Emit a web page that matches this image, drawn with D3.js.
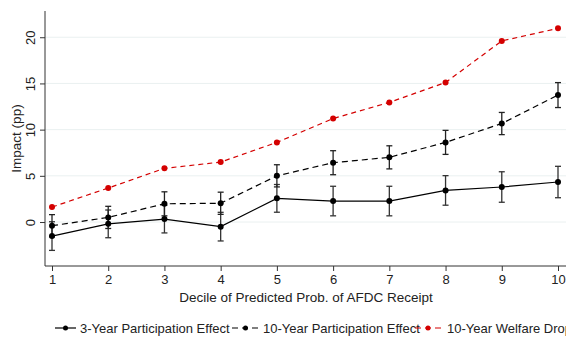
<!DOCTYPE html>
<html><head><meta charset="utf-8">
<script src="https://cdn.jsdelivr.net/npm/d3@7/dist/d3.min.js"></script>
<style>body{margin:0;background:#fff;}svg{display:block;font-family:"Liberation Sans",Arial,sans-serif;}</style>
</head><body>
<svg id="c" width="566" height="337"></svg>
<script>
const deciles = [1,2,3,4,5,6,7,8,9,10];
const yTicks = [0,5,10,15,20];
const part3 = [-1.52,-0.2,0.32,-0.5,2.56,2.27,2.27,3.42,3.79,4.33];
const part3Err = [1.55,1.5,1.5,1.55,1.5,1.6,1.6,1.6,1.65,1.7];
const part10 = [-0.4,0.5,1.97,2.03,5.0,6.42,7.0,8.62,10.66,13.74];
const part10Err = [1.2,1.2,1.3,1.2,1.2,1.3,1.25,1.3,1.2,1.35];
const welfare = [1.62,3.68,5.81,6.49,8.62,11.2,12.95,15.1,19.6,20.96];
const legendLabels = ["3-Year Participation Effect","10-Year Participation Effect","10-Year Welfare Drop"];

const svg = d3.select("#c");
const L=45, R=566, T=11, B=266;
const x = d3.scaleLinear().domain([1,10]).range([52,558]);
const y = d3.scaleLinear().domain([-4.76,22.84]).range([B,T]);

// grid
svg.append("g").selectAll("line").data(yTicks).join("line")
  .attr("x1",L).attr("x2",R).attr("y1",d=>y(d)).attr("y2",d=>y(d))
  .attr("stroke","#eaf0f0").attr("stroke-width",1);

// axes
const yAx = svg.append("g").attr("transform",`translate(${L},0)`)
  .call(d3.axisLeft(y).tickValues(yTicks).tickSize(5).tickSizeOuter(0));
yAx.select(".domain").attr("stroke","#333").attr("d",`M0,${T}V${B}`);
yAx.selectAll(".tick line").attr("stroke","#333");
yAx.selectAll(".tick text").attr("font-size",13).attr("fill","#222")
  .attr("transform","rotate(-90)").attr("x",0).attr("y",-10)
  .attr("dy","0").attr("text-anchor","middle");

const xAx = svg.append("g").attr("transform",`translate(0,${B})`)
  .call(d3.axisBottom(x).tickValues(deciles).tickFormat(d3.format("d")).tickSize(5).tickSizeOuter(0));
xAx.select(".domain").attr("stroke","#333").attr("d",`M${L},0H${R}`);
xAx.selectAll(".tick line").attr("stroke","#333");
xAx.selectAll(".tick text").attr("font-size",13).attr("fill","#222").attr("y",18).attr("dy","0");

svg.append("text").attr("x",306).attr("y",302).attr("text-anchor","middle")
  .attr("font-size",13.5).attr("fill","#222").text("Decile of Predicted Prob. of AFDC Receipt");
svg.append("text").attr("transform",`translate(21,${(T+B)/2}) rotate(-90)`).attr("text-anchor","middle")
  .attr("font-size",13.5).attr("fill","#222").text("Impact (pp)");

const line = d3.line().x((d,i)=>x(deciles[i])).y(d=>y(d));

function errbars(vals, errs, color){
  const g = svg.append("g").attr("stroke",color).attr("stroke-width",1.3);
  vals.forEach((v,i)=>{
    const cx=x(deciles[i]);
    g.append("line").attr("x1",cx).attr("x2",cx).attr("y1",y(v-errs[i])).attr("y2",y(v+errs[i]));
    g.append("line").attr("x1",cx-3).attr("x2",cx+3).attr("y1",y(v-errs[i])).attr("y2",y(v-errs[i]));
    g.append("line").attr("x1",cx-3).attr("x2",cx+3).attr("y1",y(v+errs[i])).attr("y2",y(v+errs[i]));
  });
}
errbars(part3, part3Err, "#333");
errbars(part10, part10Err, "#222");

const series = [
  {vals:part3, color:"#000", dash:null},
  {vals:part10, color:"#000", dash:"6,4"},
  {vals:welfare, color:"#d40000", dash:"5,4"}
];
series.forEach(s=>{
  svg.append("path").attr("d",line(s.vals)).attr("fill","none").attr("stroke",s.color)
    .attr("stroke-width",1.2).attr("stroke-dasharray",s.dash);
  svg.append("g").selectAll("circle").data(s.vals).join("circle")
    .attr("cx",(d,i)=>x(deciles[i])).attr("cy",d=>y(d)).attr("r",3).attr("fill",s.color);
});

// legend
const legS = [55,232,415], legE = [76,259,441], legT = [80,263,447];
const ly = 328;
series.forEach((s,i)=>{
  const g = svg.append("g");
  g.append("line").attr("x1",legS[i]).attr("x2",legE[i]).attr("y1",ly).attr("y2",ly)
    .attr("stroke",s.color).attr("stroke-width",1.2).attr("stroke-dasharray",s.dash?"6,4":null);
  g.append("circle").attr("cx",(legS[i]+legE[i])/2).attr("cy",ly).attr("r",2.5).attr("fill",s.color);
  g.append("text").attr("x",legT[i]).attr("y",ly+4.5).attr("font-size",13).attr("fill","#222").text(legendLabels[i]);
});
</script>
</body></html>
